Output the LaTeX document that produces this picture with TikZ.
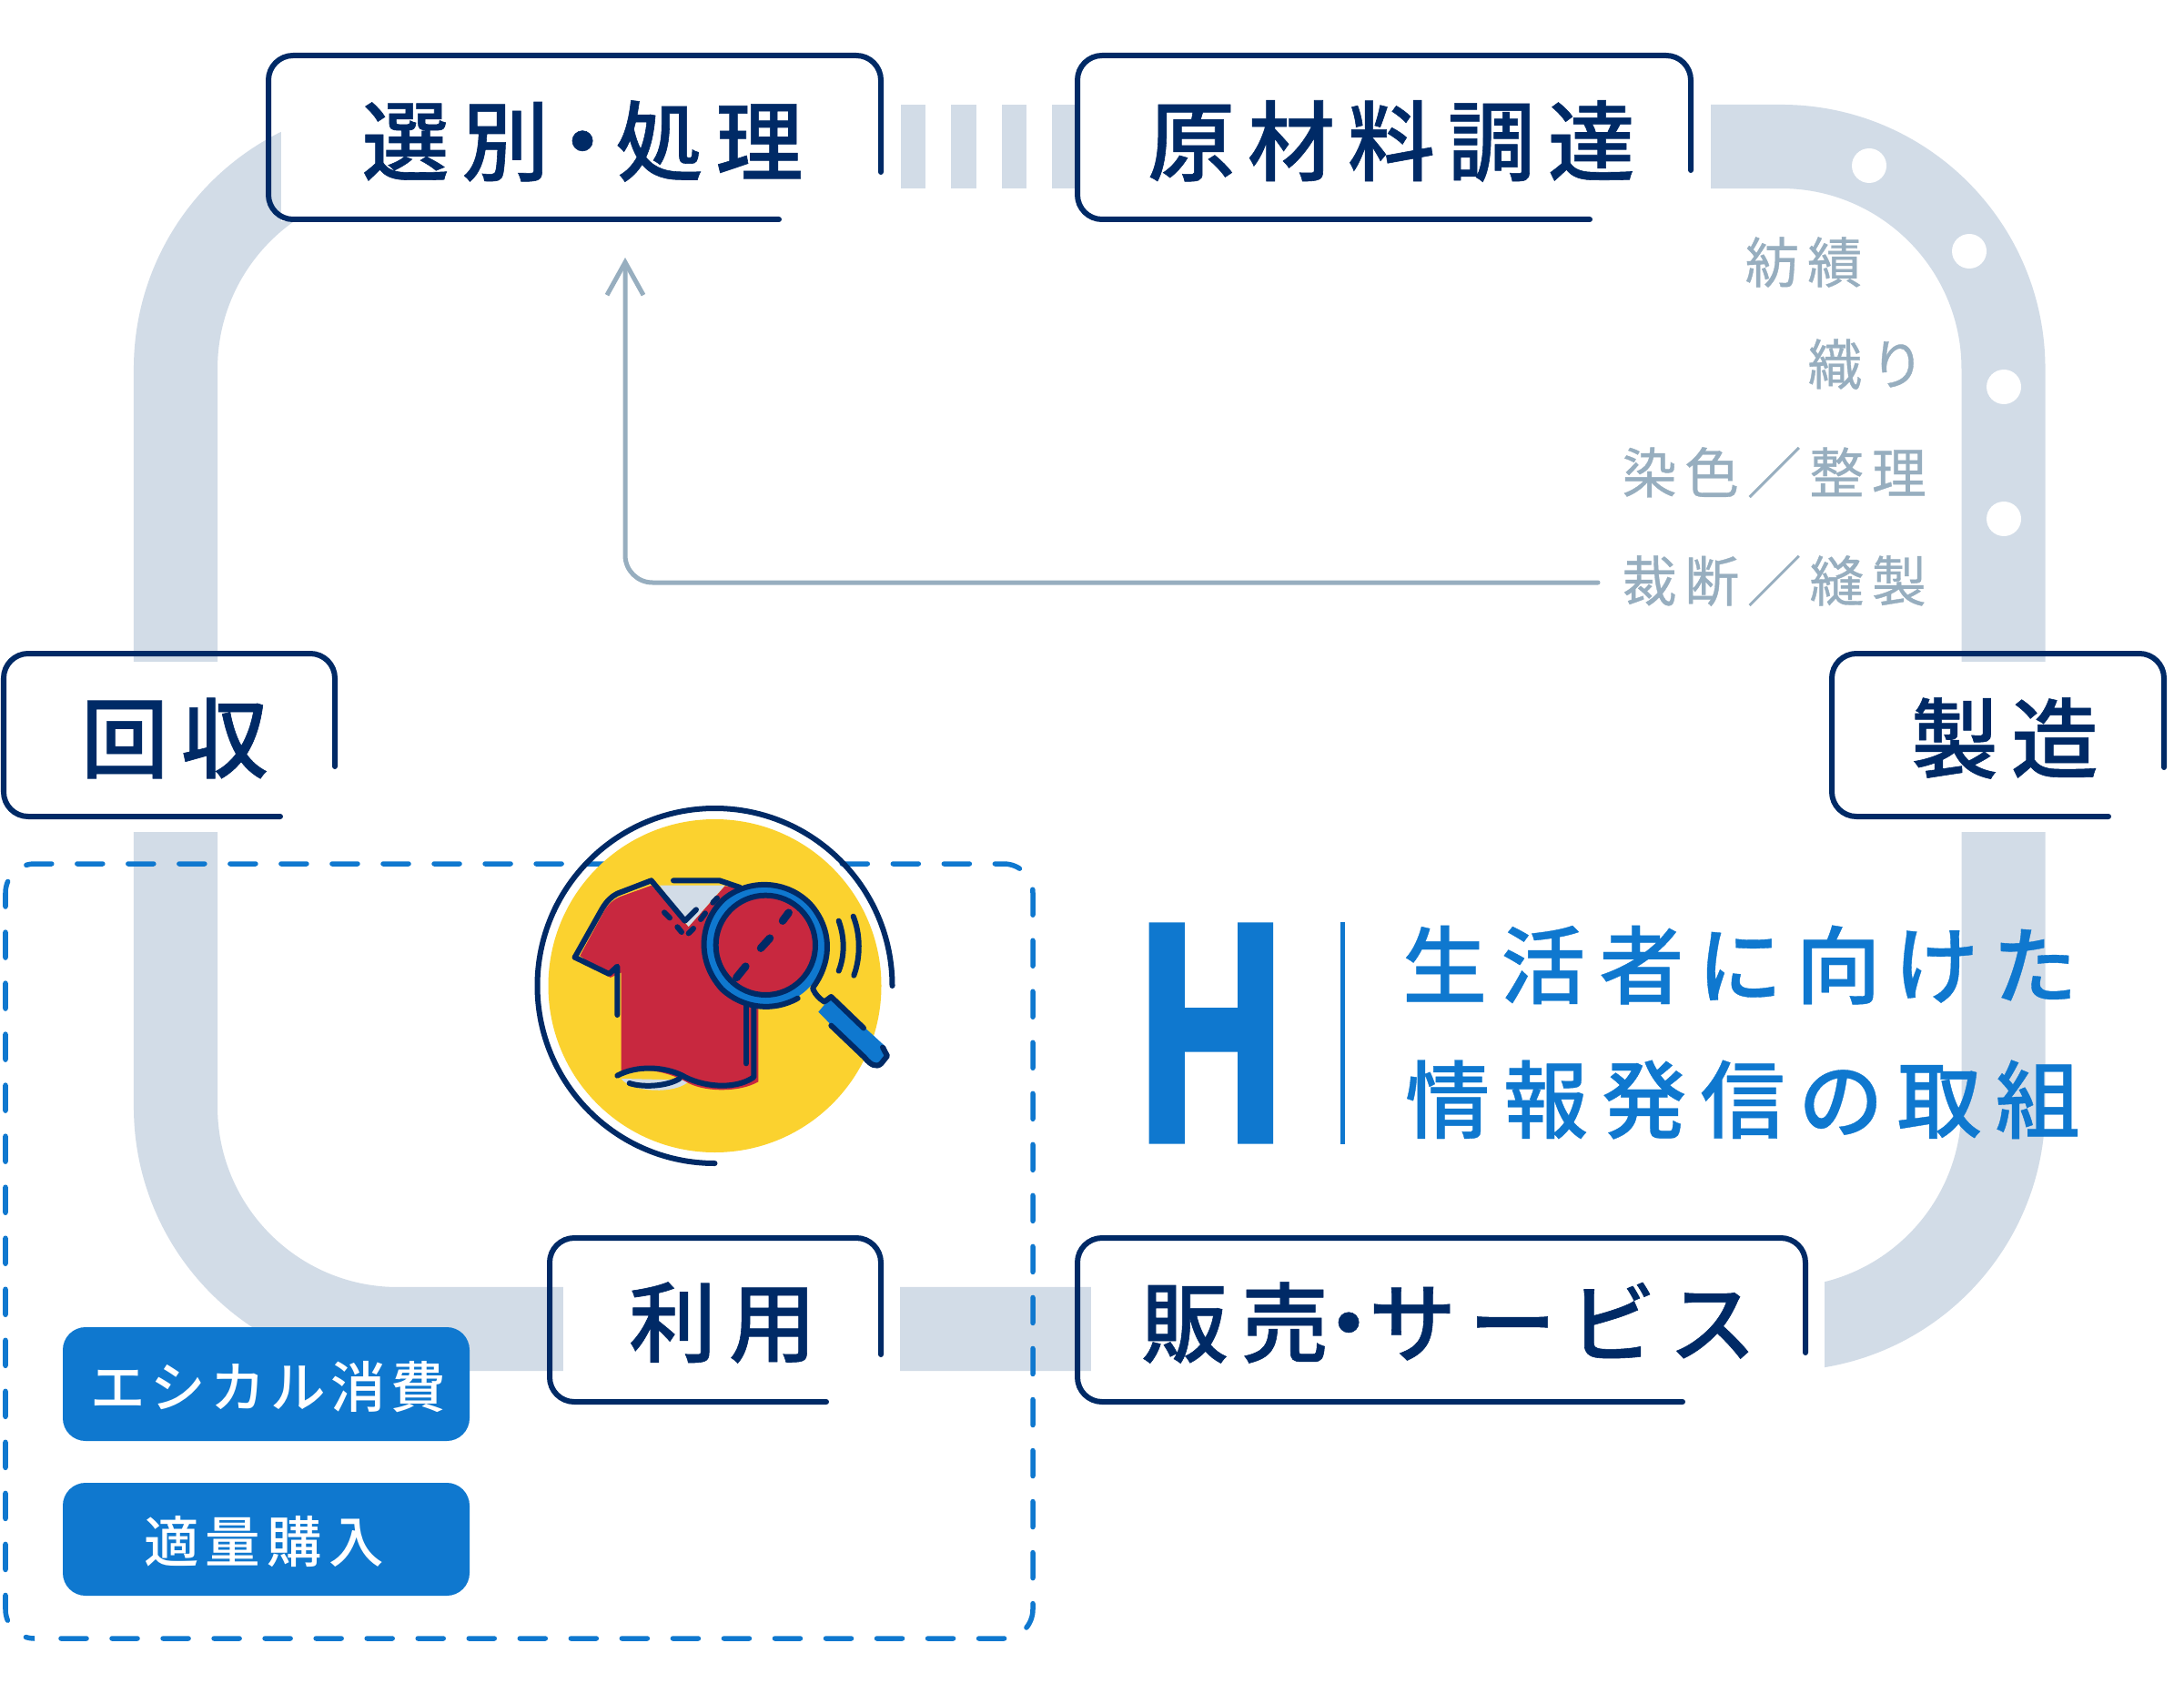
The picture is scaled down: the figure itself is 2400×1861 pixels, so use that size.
\documentclass[tikz,border=0pt]{standalone}
\usepackage{fontspec}
\usetikzlibrary{arrows.meta}
\newfontfamily\jpb[LetterSpace=14.5,FakeBold=0.6]{Noto Sans CJK JP Medium}
\newfontfamily\jpg[LetterSpace=14.7,FakeBold=0.6]{Noto Sans CJK JP}
\newfontfamily\jpp[LetterSpace=9]{Noto Sans CJK JP Medium}
\newfontfamily\jppb[LetterSpace=12]{Noto Sans CJK JP Medium}
\newfontfamily\jpl[LetterSpace=16,FakeBold=0.4]{Noto Sans CJK JP Medium}
\newfontfamily\hfont[FakeStretch=0.64,FakeBold=2.2]{Liberation Sans}
\definecolor{tubec}{HTML}{D2DCE7}
\definecolor{navy}{HTML}{002A66}
\definecolor{bluec}{HTML}{0F78CF}
\definecolor{grayc}{HTML}{97AEBF}
\definecolor{yelc}{HTML}{FBD22F}
\definecolor{redc}{HTML}{C8283F}
\newcommand{\dotk}{\hspace{-0.27em}・\hspace{-0.27em}}
\newcommand{\dotw}{\hspace{-0.12em}・\hspace{-0.12em}}
\tikzset{
  tube/.style={draw=tubec,line width=0.92cm,rounded corners=2.44cm},
  blank/.style={fill=white,draw=none},
  boxline/.style={draw=navy,line width=0.06cm,rounded corners=0.27cm,line cap=round},
  mainlabel/.style={text=navy,inner sep=0pt,font=\jpb\fontsize{27.3pt}{30pt}\selectfont},
  graylabel/.style={text=grayc,inner sep=0pt,font=\jpg\fontsize{17pt}{20pt}\selectfont},
  pill/.style={fill=bluec,rounded corners=0.25cm},
  pilltext/.style={text=white,inner sep=0pt,font=\jpp\fontsize{17.2pt}{20pt}\selectfont},
  pilltextb/.style={text=white,inner sep=0pt,font=\jppb\fontsize{17.2pt}{20pt}\selectfont},
  headtext/.style={text=bluec,inner sep=0pt,font=\jpl\fontsize{26.5pt}{30pt}\selectfont},
  ink/.style={draw=navy,line width=0.06cm,line cap=round,line join=round},
}
\begin{document}
\begin{tikzpicture}[x=0.01cm,y=-0.01cm]
\useasboundingbox (0,0) rectangle (2400,1861);
\fill[white] (0,0) rectangle (2400,1861);
% tube loop
\draw[tube] (193,161) -- (2201.5,161) -- (2201.5,1460) -- (193,1460) -- cycle;
\fill[blank] (309,100) rectangle (1880,243);
\fill[blank] (120,727) rectangle (270,914);
\fill[blank] (2130,727) rectangle (2270,914);
\fill[blank] (619,1400) rectangle (989,1520);
\fill[blank] (1199,1400) rectangle (2005,1520);
\foreach \xa/\xb in {990/1017,1045/1073,1101/1128,1156/1186}
  \fill[tubec] (\xa,115) rectangle (\xb,207);
\foreach \px/\py in {2054/182,2164/276,2202/425,2202/570}
  \fill[white] (\px,\py) circle[radius=19];
% dashed box
\draw[bluec,line width=0.055cm,line cap=round,dash pattern=on 0.28cm off 0.28cm,rounded corners=0.32cm]
  (67,1800) -- (1135,1800) -- (1135,949) -- (6,949) -- (6,1800) -- (38,1800);
% process boxes
\draw[boxline] (968,189) -- (968,61) -- (295,61) -- (295,241) -- (856,241);
\draw[boxline] (1858,187) -- (1858,61) -- (1184,61) -- (1184,241) -- (1747,241);
\draw[boxline] (368,842) -- (368,718) -- (4,718) -- (4,897) -- (308,897);
\draw[boxline] (2378,843) -- (2378,718) -- (2013,718) -- (2013,897) -- (2317,897);
\draw[boxline] (968,1488) -- (968,1360) -- (604,1360) -- (604,1540) -- (908,1540);
\draw[boxline] (1984,1486) -- (1984,1360) -- (1184,1360) -- (1184,1540) -- (1849,1540);
\node[mainlabel] (sel) at (640,155) {選別\dotw 処理};
\node[mainlabel] (src) at (1529,155) {原材料調達};
\node[mainlabel] (col) at (192,811) {回収};
\node[mainlabel] (mfg) at (2203,811) {製造};
\node[mainlabel] (use) at (794,1453) {利用};
\node[mainlabel] (sal) at (1592,1453) {販売\dotk サービス};
% gray labels
\node[graylabel,anchor=west] (l1) at (1917,288) {紡績};
\node[graylabel,anchor=west] (l2) at (1986,400) {織り};
\node[graylabel,anchor=west] (l3) at (1782,519) {染色／整理};
\node[graylabel,anchor=west] (l4) at (1782,638) {裁断／縫製};
\coordinate (arrstart) at (1756,640);
\coordinate (arrbend) at (687,640);
\coordinate (arrend) at (687,283);
\draw[grayc,line width=0.05cm,rounded corners=0.3cm,line cap=round,-{Straight Barb[length=0.36cm,width=0.4cm,line width=0.05cm]}]
  (arrstart) -- (arrbend) -- (arrend);
% pills
\fill[pill] (69,1458) rectangle (516,1583);
\fill[pill] (69,1629) rectangle (516,1753);
\node[pilltext] (p1) at (295,1524) {エシカル消費};
\node[pilltextb] (p2) at (290,1694) {適量購入};
% heading
\node[text=bluec,inner sep=0pt,font=\hfont\bfseries\fontsize{97.5pt}{100pt}\selectfont] (hh) at (1331,1135) {H};
\draw[bluec,line width=0.05cm] (1475,1013) -- (1475,1257);
\node[headtext] (h1) at (1912,1060) {生活者に向けた};
\node[headtext] (h2) at (1915,1208) {情報発信の取組};
% icon
\fill[yelc] (785.5,1083) circle[radius=183];
\draw[ink] (980.5,1083) arc[start angle=0,end angle=-270,radius=195];
\begin{scope}[shift={(550,870)},scale=0.33333]
\fill[tubec] (525,308) -- (740,308) -- (620,445) -- cycle;
\fill[tubec] (398,945) .. controls (430,990) and (580,1000) .. (625,950) -- cycle;
\fill[redc] (498,308) -- (395,345) .. controls (360,360) and (345,385) .. (335,405) -- (262,540) -- (362,612) -- (398,595)
  -- (398,925) .. controls (480,905) and (560,925) .. (620,960) .. controls (680,990) and (790,990) .. (850,955)
  -- (850,700) -- (860,330) -- (740,310) -- (620,445) -- cycle;
\draw[ink] (245,545) -- (335,385) .. controls (350,360) and (365,345) .. (385,335) -- (497,292) -- (608,425) -- (645,388);
\draw[ink] (245,545) -- (358,600) -- (385,575) -- (385,735);
\draw[ink] (570,292) -- (722,292) -- (790,315);
\draw[ink] (385,935) .. controls (450,900) and (540,905) .. (600,935) .. controls (660,970) and (770,985) .. (835,940) -- (835,700);
\draw[ink] (810,700) -- (810,895);
\draw[ink] (425,960) .. controls (470,975) and (550,970) .. (590,945);
\foreach \ax/\ay/\bx/\by in {540/397/558/415,583/445/597/462,620/466/636/450,660/420/675/400,700/365/714/350}
  \draw[ink] (\ax,\ay) -- (\bx,\by);
% magnifier handle
\draw[ink] (1030,650) .. controls (1040,670) and (1050,680) .. (1068,692);
\fill[bluec] (1090,675) -- (1270,840) -- (1278,870) -- (1240,908) -- (1210,890) -- (1048,725) -- cycle;
\draw[ink] (1070,690) -- (1090,675) -- (1197,778);
\draw[ink] (1090,770) -- (1200,875) .. controls (1220,900) and (1240,910) .. (1255,895) -- (1275,870) -- (1260,842);
% magnifier
\fill[bluec] (874,505) circle[radius=200];
\fill[redc] (874,505) circle[radius=162];
\draw[navy,line width=0.06cm] (874,505) circle[radius=164];
\draw[ink] (980,680) .. controls (900,725) and (800,715) .. (730,650) .. controls (640,550) and (660,420) .. (740,350) .. controls (830,280) and (960,295) .. (1030,380) .. controls (1100,470) and (1085,570) .. (1030,645);
\draw[navy,line width=0.085cm,line cap=round] (950,398) -- (930,425);
\draw[navy,line width=0.085cm,line cap=round] (888,482) -- (858,515);
\draw[navy,line width=0.085cm,line cap=round] (808,575) -- (778,612);
\draw[ink] (1115,425) .. controls (1135,480) and (1135,540) .. (1115,590);
\draw[ink] (1163,410) .. controls (1187,470) and (1187,545) .. (1165,605);
\end{scope}
\end{tikzpicture}
\end{document}
